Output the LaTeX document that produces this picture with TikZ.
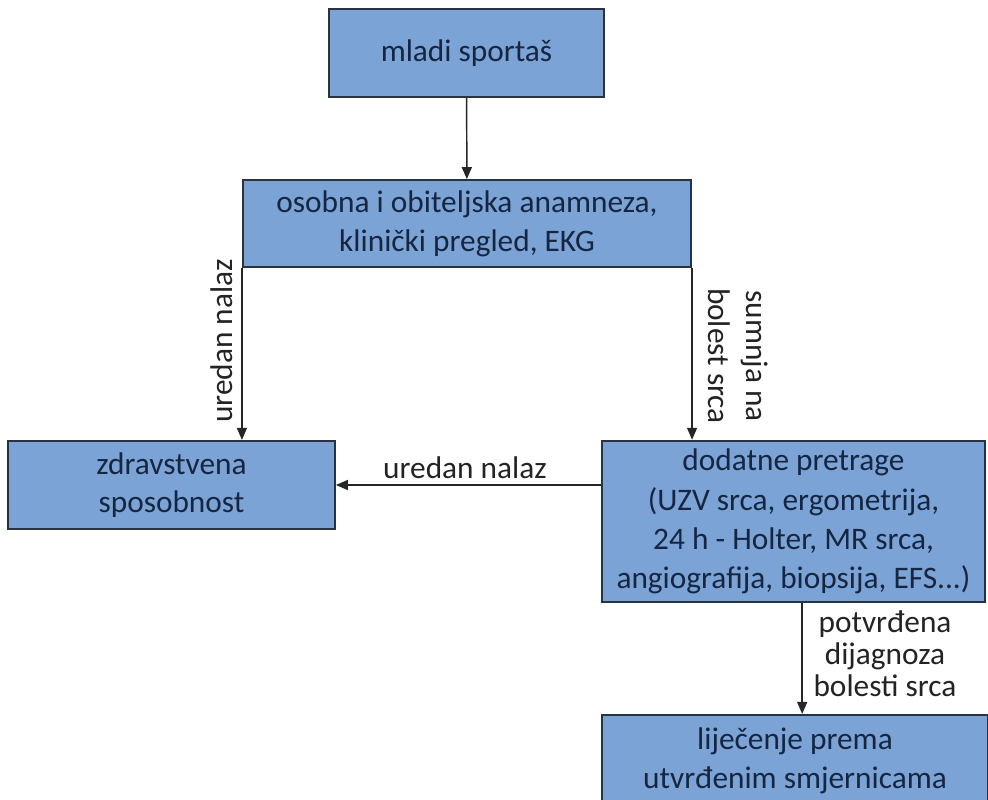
\documentclass[tikz,border=0pt]{standalone}
\usepackage{fontspec}
\setmainfont{Carlito}
\usetikzlibrary{arrows.meta}
\definecolor{boxblue}{RGB}{123,163,214}
\definecolor{boxline}{RGB}{40,50,65}
\definecolor{boxtext}{RGB}{22,38,64}
\definecolor{labeltext}{RGB}{35,35,35}

\begin{document}
\begin{tikzpicture}[x=0.75pt,y=-0.75pt,
  box/.style={draw=boxline,line width=1.6pt,fill=boxblue,text=boxtext,align=center,inner sep=0pt,font=\fontsize{23.5}{29}\selectfont},
  lbl/.style={text=labeltext,align=center,inner sep=0pt,font=\fontsize{23.5}{28}\selectfont},
  arr/.style={draw=black!85,line width=1.1pt,-{Triangle[length=9pt,width=7.5pt]}}]
\useasboundingbox (0,0) rectangle (988,799);
\clip (0,0) rectangle (988,799);

\node[box,minimum width=206pt,minimum height=66pt] (start) at (466.5,53) {mladi sportaš};
\node[box,minimum width=336pt,minimum height=65pt] (hist) at (467,223.5) {osobna i obiteljska anamneza,\\klinički pregled, EKG};
\node[box,minimum width=245pt,minimum height=66pt] (fit) at (171.5,485) {zdravstvena\\sposobnost};
\node[box,minimum width=287pt,minimum height=121pt,font=\fontsize{23.5}{29.5}\selectfont] (tests) at (793.5,521.5) {dodatne pretrage\\(UZV srca, ergometrija,\\24 h - Holter, MR srca,\\angiografija, biopsija, EFS...)};
\node[box,minimum width=290pt,minimum height=69pt] (treat) at (795,761) {liječenje prema\\utvrđenim smjernicama};

\node[lbl,rotate=90] (okleft) at (222,341) {uredan nalaz};
\node[lbl,rotate=-90] (suspect) at (738,356) {sumnja na\\bolest srca};
\node[lbl] (okmid) at (465,468) {uredan nalaz};
\node[lbl,font=\fontsize{23.5}{24}\selectfont] (confirmed) at (885,654) {potvrđena\\dijagnoza\\bolesti srca};

\draw[arr] (start) -- (hist);
\draw[arr] (hist.south west) -- (hist.south west |- fit.north);
\draw[arr] (hist.south east) -- (hist.south east |- tests.north);
\draw[arr] (tests.west |- fit.east) -- (fit.east);
\draw[arr] ([xshift=6.5pt]tests.south) -- ([xshift=6.5pt]tests.south |- treat.north);
\end{tikzpicture}
\end{document}
